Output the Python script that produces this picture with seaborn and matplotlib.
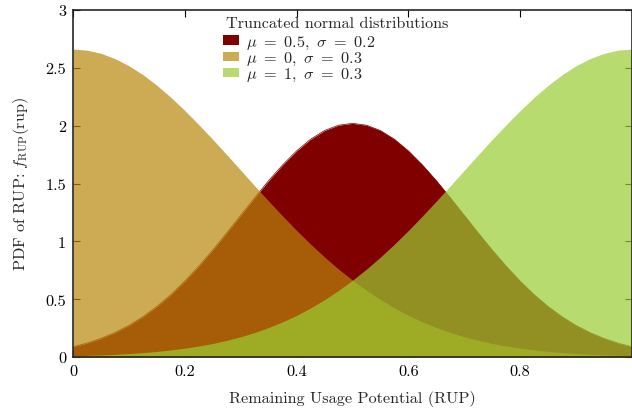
import numpy as np
import seaborn as sns
import matplotlib.pyplot as plt
from matplotlib.patches import Patch

# ------------- Datos -------------
rup = [0.0, 0.025, 0.05, 0.075, 0.1, 0.125, 0.15, 0.175, 0.2, 0.225,
       0.25, 0.275, 0.3, 0.325, 0.35, 0.375, 0.4, 0.425, 0.45, 0.475,
       0.5, 0.525, 0.55, 0.575, 0.6, 0.625, 0.65, 0.675, 0.7, 0.725,
       0.75, 0.775, 0.8, 0.825, 0.85, 0.875, 0.9, 0.925, 0.95, 0.975, 1.0]

# mu = 0.5, sigma = 0.2
pdf_mid = [0.089, 0.120, 0.161, 0.211, 0.273, 0.348, 0.437, 0.539, 0.656, 0.785,
           0.925, 1.073, 1.225, 1.377, 1.525, 1.661, 1.782, 1.883, 1.958, 2.004,
           2.020, 2.004, 1.958, 1.883, 1.782, 1.661, 1.525, 1.377, 1.225, 1.073,
           0.925, 0.785, 0.656, 0.539, 0.437, 0.348, 0.273, 0.211, 0.161, 0.120, 0.089]

# mu = 0, sigma = 0.3
pdf_low = [2.662, 2.653, 2.625, 2.580, 2.518, 2.441, 2.349, 2.245, 2.131, 2.009,
           1.881, 1.749, 1.615, 1.480, 1.348, 1.219, 1.094, 0.976, 0.864, 0.760,
           0.664, 0.576, 0.496, 0.424, 0.360, 0.304, 0.255, 0.212, 0.175, 0.144,
           0.117, 0.095, 0.076, 0.061, 0.048, 0.038, 0.030, 0.023, 0.018, 0.014, 0.010]

# mu = 1, sigma = 0.3
pdf_high = [0.010, 0.014, 0.018, 0.023, 0.030, 0.038, 0.048, 0.061, 0.076, 0.095,
            0.117, 0.144, 0.175, 0.212, 0.255, 0.304, 0.360, 0.424, 0.496, 0.576,
            0.664, 0.760, 0.864, 0.976, 1.094, 1.219, 1.348, 1.480, 1.615, 1.749,
            1.881, 2.009, 2.131, 2.245, 2.349, 2.441, 2.518, 2.580, 2.625, 2.653, 2.662]

labels = [r"$\mu\ =\ 0.5,\ \sigma\ =\ 0.2$",
          r"$\mu\ =\ 0,\ \sigma\ =\ 0.3$",
          r"$\mu\ =\ 1,\ \sigma\ =\ 0.3$"]
titulo = "Truncated normal distributions"
colores = ["#800000", "#b8860b", "#9acd32"]
alfas = [1.0, 0.7, 0.7]

xticks = [0, 0.2, 0.4, 0.6, 0.8, 1.0]
xticklabels = ["0", "0.2", "0.4", "0.6", "0.8", ""]
yticks = [0, 0.5, 1, 1.5, 2, 2.5, 3]
yticklabels = ["0", "0.5", "1", "1.5", "2", "2.5", "3"]

if __name__ == "__main__":
    sns.set_style("ticks")
    plt.rcParams["font.family"] = ["cmr10", "DejaVu Serif"]
    plt.rcParams["mathtext.fontset"] = "cm"
    plt.rcParams["axes.formatter.use_mathtext"] = True
    fs = 11.7

    fig = plt.figure(figsize=(6.32, 4.14), dpi=100)
    ax = fig.add_axes([73 / 632, 1 - 358 / 414, 1 - 73 / 632, (358 - 11) / 414])

    series = [pdf_mid, pdf_low, pdf_high]
    for ys, c, a in zip(series, colores, alfas):
        ax.fill_between(rup, 0, ys, color=c, alpha=a, linewidth=0, zorder=1)

    # borde de la curva central (opaca) con seaborn, debajo de los rellenos
    _ = sns.lineplot(x=rup, y=pdf_mid, color=colores[0], linewidth=0.5, ax=ax, zorder=0.9)

    ax.set_xlim(0, 1)
    ax.set_ylim(0, 3)
    ax.set_xticks(xticks)
    ax.set_xticklabels(xticklabels)
    ax.set_yticks(yticks)
    ax.set_yticklabels(yticklabels)
    ax.tick_params(direction="in", top=True, right=True, length=5, width=0.8,
                   labelsize=fs, colors="black", pad=5)
    ax.set_axisbelow(True)
    for s in ax.spines.values():
        s.set_linewidth(1.2)
        s.set_zorder(3)

    ax.set_xlabel("Remaining Usage Potential (RUP)", fontsize=fs, labelpad=9)
    ax.set_ylabel(r"PDF of RUP: $f_{\mathrm{RUP}}(\mathrm{rup})$", fontsize=fs, labelpad=10)

    # titulo de la leyenda como texto aparte
    ax.text(226, 414 - 24, titulo, transform=None, fontsize=fs,
            ha="left", va="center")

    handles = [Patch(facecolor=c, alpha=a, edgecolor="none") for c, a in zip(colores, alfas)]
    leg = ax.legend(handles, labels, loc="upper left",
                    bbox_to_anchor=(221 / 632, 1 - 33 / 414),
                    bbox_transform=fig.transFigure, frameon=False,
                    fontsize=fs, handlelength=1.0, handleheight=0.5,
                    handletextpad=0.45, labelspacing=-0.05, borderpad=0.1,
                    borderaxespad=0.0)

    plt.savefig("out.png", dpi=100)
